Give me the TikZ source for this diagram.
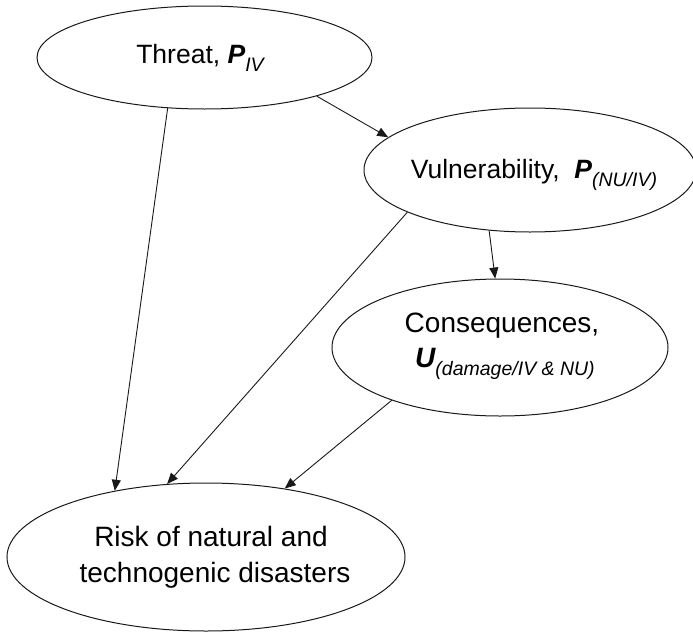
\documentclass[tikz,border=0pt]{standalone}
\usepackage{fontspec}
\setmainfont{Liberation Sans}
\usetikzlibrary{arrows.meta,shapes.geometric}

% lowered italic subscript set in running text
\newcommand\lowsub[1]{\raisebox{-8pt}{\fontsize{19.5}{20}\selectfont\itshape #1}}
\newcommand\bivar[1]{{\bfseries\itshape #1}}

\begin{document}
\begin{tikzpicture}[x=1pt,y=-1pt,
  blob/.style={draw=black!90, line width=1pt, ellipse, inner sep=0pt},
  txt/.style={inner sep=0pt, font=\fontsize{28}{35}\selectfont, align=center},
  smalltxt/.style={txt, font=\fontsize{26.5}{32}\selectfont},
  link/.style={draw=black!90, line width=0.9pt, -{Triangle[length=11pt,width=9pt]}}
]
\useasboundingbox (0,0) rectangle (693,632);

% ellipses
\node[blob, minimum width=335pt, minimum height=103pt] (thr) at (204.5,57.5) {};
\node[blob, minimum width=332pt, minimum height=124pt] (vul) at (530,170) {};
\node[blob, minimum width=336pt, minimum height=137pt] (con) at (500,347.5) {};
\node[blob, minimum width=398pt, minimum height=148pt] (risk) at (206,557) {};

% labels
\node[smalltxt, anchor=base] (thrL) at (200,63) {Threat, \bivar{P}\lowsub{IV}};
\node[smalltxt, anchor=base] (vulL) at (534,178) {Vulnerability,\ \ \bivar{P}\lowsub{(NU/IV)}};
\node[txt, anchor=base] (conL1) at (502,332) {Consequences,};
\node[txt, anchor=base] (conL2) at (505,367) {\bivar{U}\lowsub{(damage/IV \& NU)}};
\node[txt, anchor=base] (riskL1) at (211,546) {Risk of natural and};
\node[txt, anchor=base] (riskL2) at (215,582) {technogenic disasters};

% connectors
\draw[link] (thr.-126.8) -- (risk.144.3);
\draw[link] (thr.-19.3) -- (vul.167.3);
\draw[link] (vul.-161.8) -- (risk.118.7);
\draw[link] (vul.-124.5) -- (con.94.1);
\draw[link] (con.-154.1) -- (risk.41.4);
\end{tikzpicture}
\end{document}
